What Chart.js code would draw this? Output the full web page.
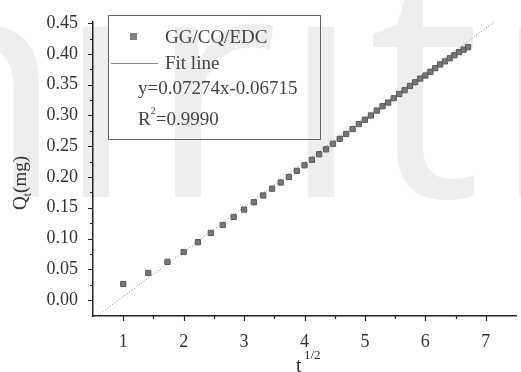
<!DOCTYPE html>
<html>
<head>
<meta charset="utf-8">
<script src="https://cdn.jsdelivr.net/npm/chart.js@4.4.1/dist/chart.umd.min.js"></script>
<style>
  html, body { margin: 0; padding: 0; background: #fff; }
  #wrap { width: 521px; height: 372px; }
</style>
</head>
<body>
<div id="wrap"><canvas id="myChart" width="521" height="372"></canvas></div>
<script>
// t^(1/2) values and released amount Q_t (mg)
const sqrtT = [1, 1.414, 1.732, 2, 2.236, 2.449, 2.646, 2.828, 3, 3.162,
  3.317, 3.464, 3.606, 3.742, 3.873, 4, 4.123, 4.243, 4.359, 4.472,
  4.583, 4.690, 4.796, 4.899, 5, 5.099, 5.196, 5.292, 5.385, 5.477,
  5.568, 5.657, 5.745, 5.831, 5.916, 6, 6.083, 6.164, 6.245, 6.325,
  6.403, 6.481, 6.557, 6.633, 6.708];
const qt = [0.026, 0.044, 0.062, 0.078, 0.094, 0.109, 0.122, 0.135, 0.147, 0.159,
  0.170, 0.181, 0.191, 0.200, 0.210, 0.219, 0.228, 0.237, 0.245, 0.254,
  0.262, 0.270, 0.278, 0.286, 0.293, 0.300, 0.308, 0.315, 0.321, 0.328,
  0.335, 0.341, 0.348, 0.354, 0.360, 0.365, 0.371, 0.377, 0.383, 0.388,
  0.393, 0.398, 0.403, 0.407, 0.411];

// fit line ends (y=0.07274x-0.06715)
const fitX = [0.5, 7.5];
const fitY = [-0.0308, 0.4784];

const xTicks = [1, 2, 3, 4, 5, 6, 7];
const yTicks = [0, 0.05, 0.10, 0.15, 0.20, 0.25, 0.30, 0.35, 0.40, 0.45];

const seriesName = "GG/CQ/EDC";
const fitName = "Fit line";
const fitText = "y=0.07274x-0.06715";
const r2Text = "0.9990";

const serif = "'Liberation Serif', 'Times New Roman', serif";

// faint background watermark
const watermark = {
  id: "watermark",
  beforeDraw(chart) {
    const c = chart.ctx;
    c.save();
    c.fillStyle = "#eeeeee";
    c.font = "318px 'Open Sans', sans-serif";
    c.textBaseline = "alphabetic";
    c.fillText("n", -130, 197);
    c.fillText("i", 56, 197);
    c.fillText("r", 148, 197);
    c.fillText("i", 281, 197);
    c.fillText("t", 368, 197);
    c.fillText("i", 492, 197);
    c.restore();
  }
};

// ticks, titles and the legend box
const decorations = {
  id: "decorations",
  afterDraw(chart) {
    const c = chart.ctx;
    const xs = chart.scales.x;
    const ys = chart.scales.y;
    const area = chart.chartArea;
    c.save();
    c.strokeStyle = "#222";
    c.lineWidth = 1.2;
    c.beginPath();
    for (let v = 0; v <= 0.451; v += 0.025) {
      const py = Math.round(ys.getPixelForValue(v)) + 0.5;
      const major = Math.round(v * 1000) % 50 === 0;
      c.moveTo(area.left - (major ? 5 : 3), py);
      c.lineTo(area.left, py);
    }
    for (let v = 1; v <= 7.01; v += 0.5) {
      const px = Math.round(xs.getPixelForValue(v)) + 0.5;
      const major = Math.abs(v - Math.round(v)) < 0.01;
      c.moveTo(px, area.bottom);
      c.lineTo(px, area.bottom + (major ? 5 : 3));
    }
    c.stroke();

    // y title: Q_t(mg)
    c.fillStyle = "#333";
    c.textBaseline = "alphabetic";
    c.translate(26, 183);
    c.rotate(-Math.PI / 2);
    c.font = "19px " + serif;
    const wQ = c.measureText("Q").width;
    const wM = c.measureText("(mg)").width;
    c.font = "12px " + serif;
    const wT = c.measureText("t").width;
    let sx = -(wQ + wT + wM) / 2;
    c.font = "19px " + serif;
    c.fillText("Q", sx, 0);
    c.font = "12px " + serif;
    c.fillText("t", sx + wQ, 5);
    c.font = "19px " + serif;
    c.fillText("(mg)", sx + wQ + wT, 0);
    c.setTransform(1, 0, 0, 1, 0, 0);

    // x title: t^(1/2)
    c.font = "20px " + serif;
    c.fillText("t", 296, 372);
    c.font = "13px " + serif;
    c.fillText("1/2", 304, 359);

    // legend box
    c.strokeStyle = "#666";
    c.lineWidth = 1;
    c.strokeRect(108.5, 15.5, 212, 124);
    c.fillStyle = "#808080";
    c.fillRect(130, 33, 7, 7);
    c.strokeStyle = "#888";
    c.beginPath();
    c.moveTo(111, 63.5);
    c.lineTo(158, 63.5);
    c.stroke();
    c.fillStyle = "#444";
    c.font = "19px " + serif;
    c.fillText(seriesName, 165, 43);
    c.fillText(fitName, 165, 69);
    c.fillText(fitText, 138, 94);
    c.fillText("R", 138, 125);
    const wR = c.measureText("R").width;
    c.font = "10px " + serif;
    c.fillText("2", 138 + wR, 114);
    c.font = "19px " + serif;
    c.fillText("=" + r2Text, 138 + wR + 5, 125);
    c.restore();
  }
};

const ctx = document.getElementById("myChart");

new Chart(ctx, {
  type: "scatter",
  data: {
    datasets: [
      {
        label: seriesName,
        data: sqrtT.map((x, i) => ({ x: x, y: qt[i] })),
        pointStyle: "rect",
        pointRadius: 3.7,
        backgroundColor: "#777777",
        borderColor: "#595959",
        borderWidth: 1,
        order: 1
      },
      {
        label: fitName,
        data: fitX.map((x, i) => ({ x: x, y: fitY[i] })),
        showLine: true,
        borderColor: "#808080",
        borderWidth: 1,
        borderDash: [1, 2],
        pointRadius: 0,
        order: 2
      }
    ]
  },
  options: {
    responsive: false,
    animation: false,
    layout: { padding: { top: 22, right: 0, left: 0, bottom: 0 } },
    plugins: {
      legend: { display: false },
      tooltip: { enabled: false }
    },
    scales: {
      x: {
        type: "linear",
        min: 0.5,
        max: 7.5,
        afterBuildTicks: (scale) => { scale.ticks = xTicks.map(v => ({ value: v })); },
        afterFit: (scale) => { scale.height = 56; },
        grid: { display: false },
        border: { color: "#222", width: 1.5 },
        ticks: {
          color: "#333",
          font: { family: serif, size: 18 },
          padding: 7,
          maxRotation: 0
        }
      },
      y: {
        type: "linear",
        min: -0.026,
        max: 0.452,
        afterBuildTicks: (scale) => { scale.ticks = yTicks.map(v => ({ value: v })); },
        afterFit: (scale) => { scale.width = 93; },
        grid: { display: false },
        border: { color: "#222", width: 1.5 },
        ticks: {
          color: "#333",
          font: { family: serif, size: 18 },
          padding: 7,
          callback: (v) => v.toFixed(2)
        }
      }
    }
  },
  plugins: [watermark, decorations]
});
</script>
</body>
</html>
